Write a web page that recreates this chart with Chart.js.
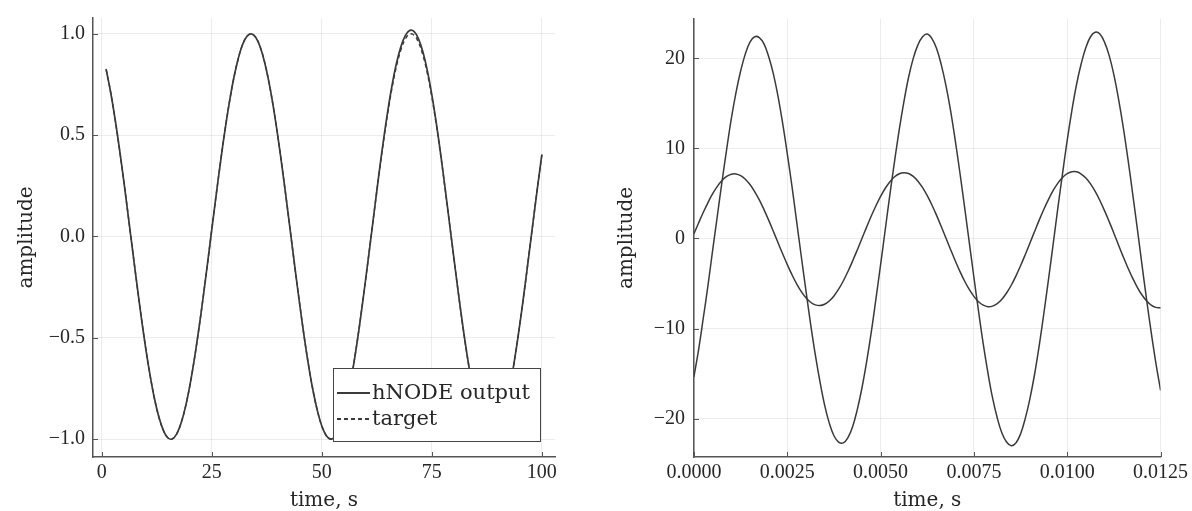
<!DOCTYPE html>
<html><head><meta charset="utf-8">
<script src="https://cdn.jsdelivr.net/npm/chart.js@4.4.1/dist/chart.umd.min.js"></script>
<style>
html,body{margin:0;padding:0;background:#fff;}
#wrap{position:relative;width:1192px;height:511px;overflow:hidden;background:#fff;}
#c1{position:absolute;left:0;top:0;}
#c2{position:absolute;left:600px;top:0;}
</style></head><body>
<div id="wrap"><canvas id="c1" width="600" height="511"></canvas><canvas id="c2" width="592" height="511"></canvas></div>
<script>
// ---------- Left panel data ----------
const leftTime = [1,2,3,4,5,6,7,8,9,10,11,12,13,14,15,16,17,18,19,20,21,22,23,24,25,26,27,28,29,30,31,32,33,34,35,36,37,38,39,40,41,42,43,44,45,46,47,48,49,50,51,52,53,54,55,56,57,58,59,60,61,62,63,64,65,66,67,68,69,70,71,72,73,74,75,76,77,78,79,80,81,82,83,84,85,86,87,88,89,90,91,92,93,94,95,96,97,98,99,100];
const targetValues = [0.823,0.713,0.582,0.434,0.273,0.103,-0.069,-0.239,-0.403,-0.554,
-0.688,-0.803,-0.893,-0.957,-0.993,-0.999,-0.975,-0.922,-0.842,-0.737,
-0.610,-0.465,-0.306,-0.138,0.035,0.206,0.371,0.525,0.663,0.782,
0.877,0.947,0.988,1.000,0.982,0.935,0.860,0.760,0.637,0.495,
0.338,0.172,0.000,-0.172,-0.338,-0.495,-0.637,-0.760,-0.860,-0.935,
-0.982,-1.000,-0.988,-0.947,-0.877,-0.782,-0.663,-0.525,-0.371,-0.206,
-0.035,0.138,0.306,0.465,0.610,0.737,0.842,0.922,0.975,0.999,
0.993,0.957,0.893,0.803,0.688,0.554,0.403,0.239,0.069,-0.103,
-0.273,-0.434,-0.582,-0.713,-0.823,-0.908,-0.967,-0.996,-0.996,-0.967,
-0.908,-0.823,-0.713,-0.582,-0.434,-0.273,-0.103,0.069,0.239,0.402];
const hnodeValues = [0.823,0.713,0.582,0.434,0.273,0.103,-0.069,-0.239,-0.403,-0.554,
-0.688,-0.803,-0.893,-0.957,-0.993,-0.999,-0.975,-0.922,-0.842,-0.737,
-0.610,-0.465,-0.306,-0.138,0.035,0.206,0.371,0.525,0.663,0.782,
0.877,0.947,0.988,1.000,0.982,0.935,0.860,0.760,0.637,0.495,
0.338,0.172,0.000,-0.172,-0.338,-0.495,-0.637,-0.760,-0.860,-0.935,
-0.982,-1.000,-0.988,-0.947,-0.877,-0.782,-0.663,-0.525,-0.371,-0.206,
-0.035,0.138,0.310,0.472,0.620,0.750,0.857,0.938,0.992,1.017,
1.011,0.974,0.909,0.817,0.700,0.563,0.409,0.242,0.069,-0.103,
-0.273,-0.434,-0.582,-0.713,-0.823,-0.915,-0.975,-1.005,-1.005,-0.975,
-0.908,-0.823,-0.713,-0.582,-0.434,-0.273,-0.103,0.069,0.239,0.402];
const leftSeriesLabels = ['hNODE output','target'];
const leftXTicks = [0,25,50,75,100];
const leftXTickLabels = ['0','25','50','75','100'];
const leftYTicks = [-1,-0.5,0,0.5,1];
const leftYTickLabels = ['\u22121.0','\u22120.5','0.0','0.5','1.0'];

// ---------- Right panel data ----------
const rightTime = [0,0.000125,0.00025,0.000375,0.0005,0.000625,0.00075,0.000875,0.001,0.001125,
0.00125,0.001375,0.0015,0.001625,0.00175,0.001875,0.002,0.002125,0.00225,0.002375,
0.0025,0.002625,0.00275,0.002875,0.003,0.003125,0.00325,0.003375,0.0035,0.003625,
0.00375,0.003875,0.004,0.004125,0.00425,0.004375,0.0045,0.004625,0.00475,0.004875,
0.005,0.005125,0.00525,0.005375,0.0055,0.005625,0.00575,0.005875,0.006,0.006125,
0.00625,0.006375,0.0065,0.006625,0.00675,0.006875,0.007,0.007125,0.00725,0.007375,
0.0075,0.007625,0.00775,0.007875,0.008,0.008125,0.00825,0.008375,0.0085,0.008625,
0.00875,0.008875,0.009,0.009125,0.00925,0.009375,0.0095,0.009625,0.00975,0.009875,
0.01,0.010125,0.01025,0.010375,0.0105,0.010625,0.01075,0.010875,0.011,0.011125,
0.01125,0.011375,0.0115,0.011625,0.01175,0.011875,0.012,0.012125,0.01225,0.012375,
0.0125];
const signalA = [-15.3,-12.3,-8.8,-5.2,-1.3,2.5,6.3,9.9,13.3,16.2,
18.6,20.5,21.8,22.4,22.3,21.6,20.2,18.3,15.8,12.8,
9.4,5.8,1.9,-2.0,-5.8,-9.5,-12.9,-15.9,-18.5,-20.5,
-21.9,-22.6,-22.7,-22.1,-20.9,-19.0,-16.6,-13.7,-10.4,-6.7,
-2.9,1.0,4.9,8.6,12.1,15.2,17.9,20.0,21.5,22.4,
22.7,22.2,21.1,19.3,17.0,14.2,10.9,7.3,3.5,-0.4,
-4.3,-8.1,-11.7,-14.9,-17.7,-19.9,-21.6,-22.6,-23.0,-22.7,
-21.7,-20.0,-17.8,-15.1,-11.9,-8.3,-4.5,-0.6,3.4,7.2,
10.9,14.2,17.1,19.4,21.2,22.4,22.9,22.7,21.8,20.3,
18.2,15.5,12.4,8.9,5.1,1.2,-2.8,-6.7,-10.4,-13.8,
-16.8];
const signalB = [0.55,1.74,2.91,3.99,4.97,5.79,6.44,6.89,7.14,7.17,
6.98,6.58,5.99,5.21,4.28,3.21,2.04,0.81,-0.45,-1.70,
-2.90,-4.02,-5.03,-5.89,-6.58,-7.08,-7.37,-7.44,-7.30,-6.94,
-6.38,-5.63,-4.72,-3.66,-2.50,-1.27,0.0,1.26,2.49,3.64,
4.68,5.58,6.31,6.85,7.19,7.31,7.21,6.89,6.36,5.64,
4.75,3.72,2.57,1.34,0.06,-1.22,-2.47,-3.65,-4.72,-5.66,
-6.43,-7.02,-7.40,-7.57,-7.51,-7.23,-6.74,-6.05,-5.19,-4.17,
-3.03,-1.80,-0.52,0.77,2.04,3.25,4.35,5.33,6.15,6.78,
7.20,7.41,7.40,7.16,6.71,6.06,5.22,4.22,3.09,1.87,
0.59,-0.72,-2.01,-3.24,-4.38,-5.39,-6.25,-6.92,-7.40,-7.65,
-7.68];
const rightSeriesLabels = ['signal 1','signal 2'];
const rightXTicks = [0,0.0025,0.005,0.0075,0.01,0.0125];
const rightXTickLabels = ['0.0000','0.0025','0.0050','0.0075','0.0100','0.0125'];
const rightYTicks = [-20,-10,0,10,20];
const rightYTickLabels = ['\u221220','\u221210','0','10','20'];

// ---------- styling ----------
const TEXT = '#262626', AXIS = '#555555', GRID = 'rgba(0,0,0,0.075)', LINE = '#3a3a3a';
const tickFontX = {family:'"Liberation Serif", serif', size:20, lineHeight:1.2};
const tickFontY = {family:'"Liberation Serif", serif', size:20, lineHeight:1.0};
const titleFont = {family:'"DejaVu Serif", serif', size:20, lineHeight:1.2};

const toXY = (xs, ys) => xs.map((x,i)=>({x:x, y:ys[i]}));

const inwardTicks = {
  id:'inwardTicks',
  afterDatasetsDraw(chart){
    const {ctx, chartArea:a} = chart; const xs = chart.scales.x, ys = chart.scales.y;
    ctx.save(); ctx.strokeStyle = AXIS; ctx.lineWidth = 1; ctx.beginPath();
    xs.ticks.forEach(t=>{const p=Math.round(xs.getPixelForValue(t.value))+0.5; ctx.moveTo(p,a.bottom); ctx.lineTo(p,a.bottom-5);});
    ys.ticks.forEach(t=>{const p=Math.round(ys.getPixelForValue(t.value))+0.5; ctx.moveTo(a.left,p); ctx.lineTo(a.left+5,p);});
    ctx.stroke(); ctx.restore();
  }
};

const boxLegend = {
  id:'boxLegend',
  afterDraw(chart){
    const {ctx, chartArea:a} = chart;
    const w = 207, h = 73; const x = Math.round(a.right - 15 - w), y = Math.round(a.bottom - 16 - h);
    ctx.save();
    ctx.fillStyle = '#fff'; ctx.fillRect(x, y, w, h);
    ctx.strokeStyle = '#444'; ctx.lineWidth = 1; ctx.strokeRect(x+0.5, y+0.5, w, h);
    chart.data.datasets.forEach((ds,i)=>{
      const ly = y + 25 + i*26;
      ctx.strokeStyle = ds.borderColor; ctx.lineWidth = 2; ctx.setLineDash(ds.borderDash || []);
      ctx.beginPath(); ctx.moveTo(x+4, ly); ctx.lineTo(x+37, ly); ctx.stroke();
      ctx.setLineDash([]);
      ctx.fillStyle = TEXT; ctx.font = '21px "DejaVu Serif"'; ctx.textBaseline = 'middle'; ctx.textAlign = 'left';
      ctx.fillText(ds.label, x+39, ly+1);
    });
    ctx.restore();
  }
};

function axisX(min, max, ticks, labels, pad){
  return {type:'linear', min:min, max:max,
    afterBuildTicks: s => { s.ticks = ticks.map(v=>({value:v})); },
    afterFit: s => { s.height = 54; },
    ticks:{callback:(v,i)=>labels[i], font:tickFontX, color:TEXT, padding:pad, maxRotation:0, autoSkip:false},
    grid:{color:GRID, drawTicks:false, lineWidth:1},
    border:{color:AXIS, width:1.5},
    title:{display:true, text:'time, s', color:TEXT, font:{family:titleFont.family, size:20, lineHeight:1.0}, padding:{top:0,bottom:0}}
  };
}
function axisY(min, max, ticks, labels, width, pad){
  return {type:'linear', min:min, max:max,
    afterBuildTicks: s => { s.ticks = ticks.map(v=>({value:v})); },
    afterFit: s => { s.width = width; },
    ticks:{callback:(v,i)=>labels[i], font:tickFontY, color:TEXT, padding:pad, autoSkip:false},
    grid:{color:GRID, drawTicks:false, lineWidth:1},
    border:{color:AXIS, width:1.5},
    title:{display:true, text:'amplitude', color:TEXT, font:titleFont, padding:{top:15,bottom:0}}
  };
}

const lineStyle = {pointRadius:0, tension:0.4, cubicInterpolationMode:'default', borderJoinStyle:'round', borderCapStyle:'round'};

new Chart(document.getElementById('c1'), {
  type:'line',
  data:{datasets:[
    Object.assign({label:leftSeriesLabels[0], data:toXY(leftTime, hnodeValues), borderColor:LINE, borderWidth:1.7, order:2}, lineStyle),
    Object.assign({label:leftSeriesLabels[1], data:toXY(leftTime, targetValues), borderColor:LINE, borderWidth:1.4, borderDash:[4,3], order:1}, lineStyle, {borderCapStyle:'butt'})
  ]},
  options:{responsive:false, animation:false, events:[],
    layout:{padding:{left:0, top:12, right:45, bottom:0}},
    plugins:{legend:{display:false}, tooltip:{enabled:false}},
    scales:{x:axisX(-2, 103, leftXTicks, leftXTickLabels, 4), y:axisY(-1.088, 1.078, leftYTicks, leftYTickLabels, 93, 8)}
  },
  plugins:[inwardTicks, boxLegend]
});

new Chart(document.getElementById('c2'), {
  type:'line',
  data:{datasets:[
    Object.assign({label:rightSeriesLabels[0], data:toXY(rightTime, signalA), borderColor:LINE, borderWidth:1.5}, lineStyle),
    Object.assign({label:rightSeriesLabels[1], data:toXY(rightTime, signalB), borderColor:LINE, borderWidth:1.5}, lineStyle)
  ]},
  options:{responsive:false, animation:false, events:[],
    layout:{padding:{left:0, top:12, right:31, bottom:0}},
    plugins:{legend:{display:false}, tooltip:{enabled:false}},
    scales:{x:axisX(0, 0.0125, rightXTicks, rightXTickLabels, 4), y:axisY(-24.26, 24.37, rightYTicks, rightYTickLabels, 94, 9)}
  },
  plugins:[inwardTicks]
});
</script>
</body></html>
